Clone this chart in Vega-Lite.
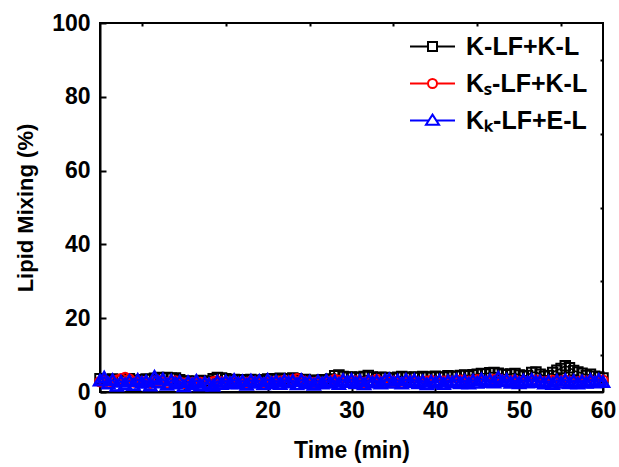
{
  "$schema": "https://vega.github.io/schema/vega-lite/v6.json",
  "width": 503,
  "height": 369,
  "autosize": {"type": "none"},
  "padding": {"left": 100, "top": 23, "right": 16, "bottom": 75},
  "background": "white",
  "config": {
    "font": "Liberation Sans",
    "view": {"stroke": "black", "strokeWidth": 2},
    "axis": {
      "labelFont": "Liberation Sans",
      "labelFontWeight": "bold",
      "labelFontSize": 23,
      "labelColor": "black",
      "titleFont": "Liberation Sans",
      "titleFontWeight": "bold",
      "titleFontSize": 22,
      "titleColor": "black",
      "domainColor": "black",
      "domainWidth": 2,
      "tickColor": "black",
      "tickWidth": 2,
      "grid": false
    }
  },
  "resolve": {"axis": {"x": "independent", "y": "independent"}},
  "data": {
    "values": [
      {"t": 0, "k": 3.6, "r": 2.8, "b": 3.2},
      {"t": 0.5, "k": 3.4, "r": 3.0, "b": 4.0},
      {"t": 1, "k": 3.2, "r": 2.6, "b": 2.4},
      {"t": 1.5, "k": 3.5, "r": 2.9, "b": 3.3},
      {"t": 2, "k": 3.3, "r": 3.2, "b": 1.8},
      {"t": 2.5, "k": 3.1, "r": 3.6, "b": 2.9},
      {"t": 3, "k": 3.4, "r": 3.9, "b": 2.2},
      {"t": 3.5, "k": 3.6, "r": 3.5, "b": 3.1},
      {"t": 4, "k": 3.2, "r": 2.7, "b": 2.0},
      {"t": 4.5, "k": 3.0, "r": 2.5, "b": 3.4},
      {"t": 5, "k": 3.3, "r": 2.8, "b": 2.6},
      {"t": 5.5, "k": 3.5, "r": 2.6, "b": 3.0},
      {"t": 6, "k": 3.4, "r": 2.4, "b": 1.9},
      {"t": 6.5, "k": 3.7, "r": 2.9, "b": 4.2},
      {"t": 7, "k": 3.9, "r": 3.1, "b": 2.7},
      {"t": 7.5, "k": 3.8, "r": 2.8, "b": 3.5},
      {"t": 8, "k": 3.9, "r": 2.5, "b": 2.1},
      {"t": 8.5, "k": 3.7, "r": 2.9, "b": 3.2},
      {"t": 9, "k": 3.8, "r": 3.0, "b": 2.4},
      {"t": 9.5, "k": 3.3, "r": 2.6, "b": 2.9},
      {"t": 10, "k": 2.9, "r": 2.4, "b": 1.7},
      {"t": 10.5, "k": 3.0, "r": 2.2, "b": 2.8},
      {"t": 11, "k": 2.7, "r": 2.5, "b": 2.2},
      {"t": 11.5, "k": 2.9, "r": 2.3, "b": 3.1},
      {"t": 12, "k": 3.1, "r": 2.6, "b": 1.9},
      {"t": 12.5, "k": 2.8, "r": 2.4, "b": 2.6},
      {"t": 13, "k": 3.0, "r": 2.1, "b": 2.2},
      {"t": 13.5, "k": 3.6, "r": 2.8, "b": 1.8},
      {"t": 14, "k": 3.9, "r": 3.0, "b": 2.9},
      {"t": 14.5, "k": 3.8, "r": 2.7, "b": 2.3},
      {"t": 15, "k": 3.6, "r": 2.4, "b": 3.0},
      {"t": 15.5, "k": 3.2, "r": 2.6, "b": 2.5},
      {"t": 16, "k": 3.4, "r": 2.8, "b": 3.3},
      {"t": 16.5, "k": 3.2, "r": 2.5, "b": 2.4},
      {"t": 17, "k": 3.3, "r": 2.3, "b": 3.0},
      {"t": 17.5, "k": 3.1, "r": 2.6, "b": 2.1},
      {"t": 18, "k": 3.4, "r": 2.9, "b": 3.2},
      {"t": 18.5, "k": 3.2, "r": 2.7, "b": 2.6},
      {"t": 19, "k": 3.0, "r": 2.5, "b": 3.1},
      {"t": 19.5, "k": 3.3, "r": 2.4, "b": 2.2},
      {"t": 20, "k": 3.5, "r": 2.7, "b": 3.4},
      {"t": 20.5, "k": 3.6, "r": 2.8, "b": 2.5},
      {"t": 21, "k": 3.4, "r": 2.6, "b": 3.0},
      {"t": 21.5, "k": 3.7, "r": 2.9, "b": 2.3},
      {"t": 22, "k": 3.5, "r": 3.1, "b": 3.2},
      {"t": 22.5, "k": 3.6, "r": 2.8, "b": 2.7},
      {"t": 23, "k": 3.8, "r": 3.3, "b": 3.1},
      {"t": 23.5, "k": 3.6, "r": 3.6, "b": 2.2},
      {"t": 24, "k": 3.3, "r": 3.2, "b": 3.3},
      {"t": 24.5, "k": 3.4, "r": 2.8, "b": 2.5},
      {"t": 25, "k": 3.0, "r": 2.6, "b": 2.9},
      {"t": 25.5, "k": 3.2, "r": 2.5, "b": 2.1},
      {"t": 26, "k": 3.1, "r": 2.7, "b": 3.0},
      {"t": 26.5, "k": 3.3, "r": 2.4, "b": 2.4},
      {"t": 27, "k": 3.2, "r": 2.6, "b": 3.2},
      {"t": 27.5, "k": 3.5, "r": 2.9, "b": 2.6},
      {"t": 28, "k": 4.4, "r": 3.4, "b": 3.0},
      {"t": 28.5, "k": 4.6, "r": 3.1, "b": 2.3},
      {"t": 29, "k": 4.2, "r": 2.8, "b": 3.3},
      {"t": 29.5, "k": 4.0, "r": 2.7, "b": 2.8},
      {"t": 30, "k": 4.1, "r": 2.9, "b": 3.4},
      {"t": 30.5, "k": 3.9, "r": 3.0, "b": 2.5},
      {"t": 31, "k": 4.0, "r": 2.8, "b": 3.1},
      {"t": 31.5, "k": 4.2, "r": 2.6, "b": 2.2},
      {"t": 32, "k": 4.5, "r": 2.9, "b": 3.2},
      {"t": 32.5, "k": 4.1, "r": 3.0, "b": 2.7},
      {"t": 33, "k": 3.8, "r": 3.4, "b": 3.0},
      {"t": 33.5, "k": 4.0, "r": 2.8, "b": 2.4},
      {"t": 34, "k": 3.9, "r": 2.6, "b": 3.3},
      {"t": 34.5, "k": 3.8, "r": 2.8, "b": 3.5},
      {"t": 35, "k": 3.7, "r": 2.9, "b": 2.6},
      {"t": 35.5, "k": 4.0, "r": 2.7, "b": 3.2},
      {"t": 36, "k": 4.2, "r": 2.5, "b": 2.4},
      {"t": 36.5, "k": 4.0, "r": 2.8, "b": 3.4},
      {"t": 37, "k": 3.9, "r": 3.0, "b": 2.8},
      {"t": 37.5, "k": 4.1, "r": 2.9, "b": 3.3},
      {"t": 38, "k": 3.9, "r": 2.6, "b": 2.5},
      {"t": 38.5, "k": 4.2, "r": 2.7, "b": 3.0},
      {"t": 39, "k": 4.0, "r": 2.9, "b": 2.2},
      {"t": 39.5, "k": 4.1, "r": 3.1, "b": 2.9},
      {"t": 40, "k": 4.3, "r": 2.8, "b": 2.6},
      {"t": 40.5, "k": 4.0, "r": 2.6, "b": 3.2},
      {"t": 41, "k": 4.1, "r": 2.9, "b": 2.3},
      {"t": 41.5, "k": 4.4, "r": 3.0, "b": 3.0},
      {"t": 42, "k": 4.2, "r": 2.8, "b": 2.7},
      {"t": 42.5, "k": 4.3, "r": 2.7, "b": 3.3},
      {"t": 43, "k": 4.5, "r": 3.2, "b": 2.5},
      {"t": 43.5, "k": 4.6, "r": 3.0, "b": 3.1},
      {"t": 44, "k": 4.4, "r": 2.9, "b": 2.4},
      {"t": 44.5, "k": 4.7, "r": 3.1, "b": 3.2},
      {"t": 45, "k": 4.8, "r": 3.3, "b": 2.6},
      {"t": 45.5, "k": 5.0, "r": 3.0, "b": 3.5},
      {"t": 46, "k": 4.9, "r": 2.8, "b": 2.8},
      {"t": 46.5, "k": 5.2, "r": 3.1, "b": 3.3},
      {"t": 47, "k": 5.3, "r": 3.4, "b": 2.7},
      {"t": 47.5, "k": 5.1, "r": 3.6, "b": 4.0},
      {"t": 48, "k": 4.8, "r": 3.2, "b": 3.0},
      {"t": 48.5, "k": 4.7, "r": 2.9, "b": 3.4},
      {"t": 49, "k": 4.9, "r": 3.0, "b": 2.6},
      {"t": 49.5, "k": 5.0, "r": 3.1, "b": 3.1},
      {"t": 50, "k": 4.6, "r": 2.8, "b": 2.5},
      {"t": 50.5, "k": 4.3, "r": 2.9, "b": 3.2},
      {"t": 51, "k": 4.5, "r": 2.7, "b": 2.7},
      {"t": 51.5, "k": 5.3, "r": 3.0, "b": 3.4},
      {"t": 52, "k": 5.4, "r": 3.2, "b": 2.8},
      {"t": 52.5, "k": 4.8, "r": 2.9, "b": 3.0},
      {"t": 53, "k": 4.3, "r": 2.7, "b": 2.4},
      {"t": 53.5, "k": 4.5, "r": 2.9, "b": 2.9},
      {"t": 54, "k": 5.3, "r": 3.1, "b": 2.3},
      {"t": 54.5, "k": 5.9, "r": 2.8, "b": 3.2},
      {"t": 55, "k": 6.4, "r": 3.0, "b": 2.6},
      {"t": 55.5, "k": 7.1, "r": 3.2, "b": 3.3},
      {"t": 56, "k": 6.6, "r": 2.9, "b": 2.5},
      {"t": 56.5, "k": 5.8, "r": 2.7, "b": 3.1},
      {"t": 57, "k": 5.4, "r": 2.8, "b": 2.4},
      {"t": 57.5, "k": 5.1, "r": 3.0, "b": 3.0},
      {"t": 58, "k": 4.5, "r": 2.9, "b": 2.6},
      {"t": 58.5, "k": 4.8, "r": 3.1, "b": 3.3},
      {"t": 59, "k": 4.3, "r": 2.8, "b": 2.7},
      {"t": 59.5, "k": 4.1, "r": 3.0, "b": 3.4},
      {"t": 60, "k": 3.8, "r": 3.2, "b": 2.8}
    ]
  },
  "layer": [
    {
      "mark": {"type": "line", "color": "black", "strokeWidth": 1.5},
      "encoding": {
        "x": {
          "field": "t",
          "type": "quantitative",
          "title": "Time (min)",
          "scale": {"domain": [0, 60], "nice": false, "zero": false},
          "axis": {
            "values": [0, 10, 20, 30, 40, 50, 60],
            "tickSize": -6,
            "labelPadding": 13,
            "labelFlush": false,
            "titleFontSize": 23,
            "titlePadding": 17
          }
        },
        "y": {
          "field": "k",
          "type": "quantitative",
          "title": "Lipid Mixing (%)",
          "scale": {"domain": [0, 100], "nice": false},
          "axis": {
            "values": [0, 20, 40, 60, 80, 100],
            "tickSize": -6,
            "labelPadding": 16,
            "labelFlush": false,
            "titlePadding": 14
          }
        }
      }
    },
    {
      "mark": {"type": "point", "shape": "square", "color": "black", "filled": false, "strokeWidth": 2, "size": 90, "opacity": 1},
      "encoding": {
        "x": {
          "field": "t",
          "type": "quantitative",
          "axis": {
            "values": [5, 15, 25, 35, 45, 55],
            "tickSize": -3,
            "labels": false,
            "domain": false,
            "title": null
          }
        },
        "y": {
          "field": "k",
          "type": "quantitative",
          "axis": {
            "values": [10, 30, 50, 70, 90],
            "tickSize": -3,
            "labels": false,
            "domain": false,
            "title": null
          }
        }
      }
    },
    {
      "mark": {"type": "line", "color": "#ff0000", "strokeWidth": 1.5},
      "encoding": {
        "x": {"field": "t", "type": "quantitative", "axis": null},
        "y": {"field": "r", "type": "quantitative", "axis": null}
      }
    },
    {
      "mark": {"type": "point", "shape": "circle", "color": "#ff0000", "filled": false, "strokeWidth": 2, "size": 90, "opacity": 1},
      "encoding": {
        "x": {"field": "t", "type": "quantitative", "axis": null},
        "y": {"field": "r", "type": "quantitative", "axis": null}
      }
    },
    {
      "mark": {"type": "line", "color": "#0000ff", "strokeWidth": 2},
      "encoding": {
        "x": {"field": "t", "type": "quantitative", "axis": null},
        "y": {"field": "b", "type": "quantitative", "axis": null}
      }
    },
    {
      "mark": {"type": "point", "shape": "triangle-up", "color": "#0000ff", "filled": false, "strokeWidth": 2.6, "size": 140, "opacity": 1},
      "encoding": {
        "x": {"field": "t", "type": "quantitative", "axis": null},
        "y": {"field": "b", "type": "quantitative", "axis": null}
      }
    },
    {
      "data": {"values": [{"series": "K-LF+K-L"}, {"series": "Kₛ-LF+K-L"}, {"series": "Kₖ-LF+E-L"}]},
      "mark": {"type": "point", "filled": false, "strokeWidth": 2, "opacity": 0},
      "encoding": {
        "x": {"value": 0},
        "y": {"value": 0},
        "color": {
          "field": "series",
          "type": "nominal",
          "scale": {"domain": ["K-LF+K-L", "Kₛ-LF+K-L", "Kₖ-LF+E-L"], "range": ["black", "#ff0000", "#0000ff"]},
          "legend": {
            "title": null,
            "orient": "none",
            "legendX": 320,
            "legendY": 11,
            "symbolSize": 81,
            "symbolStrokeWidth": 2,
            "symbolOpacity": 1,
            "labelFont": "Liberation Sans",
            "labelFontWeight": "bold",
            "labelFontSize": 25,
            "labelColor": "black",
            "labelOffset": 21,
            "rowPadding": 11,
            "padding": 0
          }
        },
        "shape": {
          "field": "series",
          "type": "nominal",
          "scale": {
            "domain": ["K-LF+K-L", "Kₛ-LF+K-L", "Kₖ-LF+E-L"],
            "range": [
              "M-5,0H-1M1,0H5M-1,-1H1V1H-1Z",
              "M-5,0H-1M1,0H5M1,0A1,1,0,1,1,-1,0A1,1,0,1,1,1,0Z",
              "M-5,0H-0.8M0.8,0H5M0,-1.3L1.45,0.95L-1.45,0.95Z"
            ]
          },
          "legend": {
            "title": null,
            "orient": "none",
            "legendX": 320,
            "legendY": 11,
            "symbolSize": 81,
            "symbolStrokeWidth": 2,
            "symbolOpacity": 1,
            "labelFont": "Liberation Sans",
            "labelFontWeight": "bold",
            "labelFontSize": 25,
            "labelColor": "black",
            "labelOffset": 21,
            "rowPadding": 11,
            "padding": 0
          }
        }
      }
    }
  ]
}
